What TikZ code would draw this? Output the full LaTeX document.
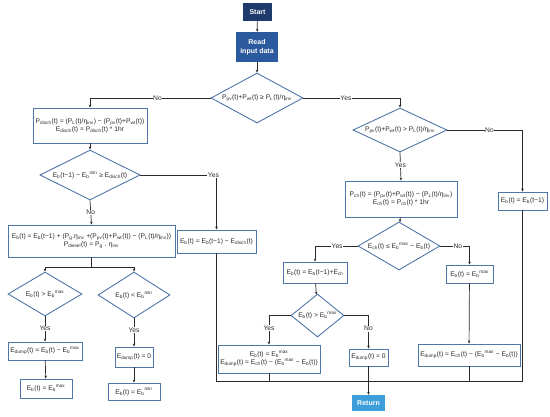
\documentclass[tikz,border=0pt]{standalone}
\usepackage{fontspec}
\setmainfont{Liberation Sans}
\usetikzlibrary{shapes.geometric,arrows.meta}
\newcommand{\sbs}[1]{\textsubscript{#1}}
\newcommand{\sps}[1]{\textsuperscript{#1}}
\definecolor{navy}{HTML}{1F3A6B}
\definecolor{midblue}{HTML}{2B5A9E}
\definecolor{skyblue}{HTML}{3C9FDA}
\definecolor{edge}{HTML}{4F76A8}
\definecolor{ink}{HTML}{2A2A2A}
\tikzset{
  box/.style={draw=edge, line width=0.9pt, fill=white, inner sep=0pt, align=center, text=ink, font=\fontsize{6.7}{7.6}\selectfont},
  dec/.style={diamond, draw=edge, line width=0.9pt, fill=white, inner sep=0pt, text=ink, font=\fontsize{6.7}{7.6}\selectfont},
  term/.style={inner sep=0pt, align=center, text=white, font=\bfseries\fontsize{7}{8.6}\selectfont},
  conn/.style={draw=ink, line width=0.7pt},
  arr/.style={conn, -{Stealth[length=3pt,width=2.6pt]}},
  lab/.style={fill=white, inner sep=0.6pt, text=ink, font=\fontsize{6.7}{7.6}\selectfont}
}
\begin{document}
\begin{tikzpicture}[x=1pt,y=-1pt]
\useasboundingbox (0,0) rectangle (550,417);
% terminals
\node[term, fill=navy, minimum width=29pt, minimum height=18pt] (start) at (257.5,12) {Start};
\node[term, fill=midblue, minimum width=42pt, minimum height=30pt] (read) at (257,47) {Read\\input data};
\node[term, fill=skyblue, minimum width=33pt, minimum height=16pt] (ret) at (368.5,403) {Return};
% decisions
\node[dec, minimum width=92pt, minimum height=50pt] (d1) at (257,98) {\makebox[0pt]{P\sbs{pv}(t)+P\sbs{wt}(t) ≥ P\sbs{L}(t)/η\sbs{inv}}};
\node[dec, minimum width=100pt, minimum height=50pt] (d2) at (90,175) {\makebox[0pt]{E\sbs{b}(t−1) − E\sbs{b}\sps{min} ≥ E\sbs{disch}(t)}};
\node[dec, minimum width=74pt, minimum height=44pt] (d3) at (45,294) {\makebox[0pt]{E\sbs{b}(t) > E\sbs{b}\sps{max}}};
\node[dec, minimum width=72pt, minimum height=46pt] (d4) at (134,295) {\makebox[0pt]{E\sbs{b}(t) < E\sbs{b}\sps{min}}};
\node[dec, minimum width=94pt, minimum height=44pt] (d2r) at (400,130) {\makebox[0pt]{P\sbs{pv}(t)+P\sbs{wt}(t) > P\sbs{L}(t)/η\sbs{inv}}};
\node[dec, minimum width=82pt, minimum height=48pt] (d3r) at (399,246) {\makebox[0pt]{E\sbs{ch}(t) ≤ E\sbs{b}\sps{max} − E\sbs{b}(t)}};
\node[dec, minimum width=53pt, minimum height=43pt] (d4r) at (317.5,315.5) {\makebox[0pt]{E\sbs{b}(t) > E\sbs{b}\sps{max}}};
% process boxes left
\node[box, minimum width=114pt, minimum height=35pt] (bdisch) at (90,125.5) {P\sbs{disch}(t) = (P\sbs{L}(t)/η\sbs{inv}) − (P\sbs{pv}(t)+P\sbs{wt}(t))\\E\sbs{disch}(t) = P\sbs{disch}(t) * 1hr};
\node[box, minimum width=79pt, minimum height=23pt] (bebd) at (216.5,241.5) {E\sbs{b}(t) = E\sbs{b}(t−1) − E\sbs{disch}(t)};
\node[box, minimum width=167pt, minimum height=32pt] (bbig) at (91.5,241) {E\sbs{b}(t) = E\sbs{b}(t−1) + (P\sbs{g}.η\sbs{inv} +(P\sbs{pv}(t)+P\sbs{wt}(t)) − (P\sbs{L}(t)/η\sbs{inv}))\\P\sbs{diesel}(t) = P\sbs{g} . η\sbs{inv}};
\node[box, minimum width=74pt, minimum height=18pt] (bdump3) at (45,351) {E\sbs{dump}(t) = E\sbs{b}(t) − E\sbs{b}\sps{max}};
\node[box, minimum width=52pt, minimum height=19pt] (bmax3) at (46,388.5) {E\sbs{b}(t) = E\sbs{b}\sps{max}};
\node[box, minimum width=38pt, minimum height=20pt] (bdump4) at (134,357) {E\sbs{dump}(t) = 0};
\node[box, minimum width=52pt, minimum height=17pt] (bmin4) at (134,391.5) {E\sbs{b}(t) = E\sbs{b}\sps{min}};
% process boxes right
\node[box, minimum width=49pt, minimum height=18pt] (bprev) at (522.5,201) {E\sbs{b}(t) = E\sbs{b}(t−1)};
\node[box, minimum width=112pt, minimum height=36pt] (bch) at (401,199) {P\sbs{ch}(t) = (P\sbs{pv}(t)+P\sbs{wt}(t)) − (P\sbs{L}(t)/η\sbs{inv})\\E\sbs{ch}(t) = P\sbs{ch}(t) * 1hr};
\node[box, minimum width=64pt, minimum height=21pt] (bebch) at (315,272.5) {E\sbs{b}(t) = E\sbs{b}(t−1)+E\sbs{ch}};
\node[box, minimum width=47pt, minimum height=18pt] (bmaxr) at (469.5,274) {E\sbs{b}(t) = E\sbs{b}\sps{max}};
\node[box, minimum width=102pt, minimum height=28pt] (bboth) at (269,359) {E\sbs{b}(t) = E\sbs{b}\sps{max}\\E\sbs{dump}(t) = E\sbs{ch}(t) − (E\sbs{b}\sps{max} − E\sbs{b}(t))};
\node[box, minimum width=39pt, minimum height=17pt] (bdump0) at (368.5,357.5) {E\sbs{dump}(t) = 0};
\node[box, minimum width=102pt, minimum height=22pt] (bdumpr) at (469,355) {E\sbs{dump}(t) = E\sbs{ch}(t) − (E\sbs{b}\sps{max} − E\sbs{b}(t))};
\coordinate (bus) at (0,381);
% connectors
\draw[arr] (start) -- (read);
\draw[arr] (read) -- (d1);
\draw[arr] (d1.west) -| node[lab, pos=0.22] {No} (bdisch.north);
\draw[arr] (d1.east) -| node[lab, pos=0.22] {Yes} (d2r.north);
\draw[arr] (bdisch) -- (d2);
\draw[arr] (d2.east) -| node[lab, pos=0.48] {Yes} (bebd.north);
\draw[arr] (d2.south) -- node[lab, pos=0.5] {No} (bbig.north);
\draw[arr] (bbig.south) -- ++(0,10) -| (d3.north);
\draw[arr] (bbig.south) -- ++(0,10) -| (d4.north);
\draw[arr] (d3.south) -- node[lab, pos=0.48] {Yes} (bdump3.north);
\draw[arr] (bdump3) -- (bmax3);
\draw[arr] (d4.south) -- node[lab, pos=0.42] {Yes} (bdump4.north);
\draw[arr] (bdump4) -- (bmin4);
\draw[arr] (d2r.east) -| node[lab, pos=0.28] {No} (bprev.north);
\draw[arr] (d2r.south) -- node[lab, pos=0.45] {Yes} (bch.north);
\draw[arr] (bch) -- (d3r);
\draw[arr] (d3r.west) -| node[lab, pos=0.24] {Yes} (bebch.north);
\draw[arr] (d3r.east) -| node[lab, pos=0.3] {No} (bmaxr.north);
\draw[arr] (bebch) -- (d4r);
\draw[arr] (d4r.west) -| node[lab, pos=0.72] {Yes} (bboth.north);
\draw[arr] (d4r.east) -| node[lab, pos=0.7] {No} (bdump0.north);
\draw[arr] (bmaxr) -- (bdumpr);
\draw[arr] (bdump0) -- (ret);
\draw[conn] (bebd.south) -- (bebd.south |- bus) -- (bprev.south |- bus) -- (bprev.south);
\draw[conn] (bboth.south) -- (bboth.south |- bus);
\draw[conn] (bdumpr.south) -- (bdumpr.south |- bus);
\end{tikzpicture}
\end{document}
